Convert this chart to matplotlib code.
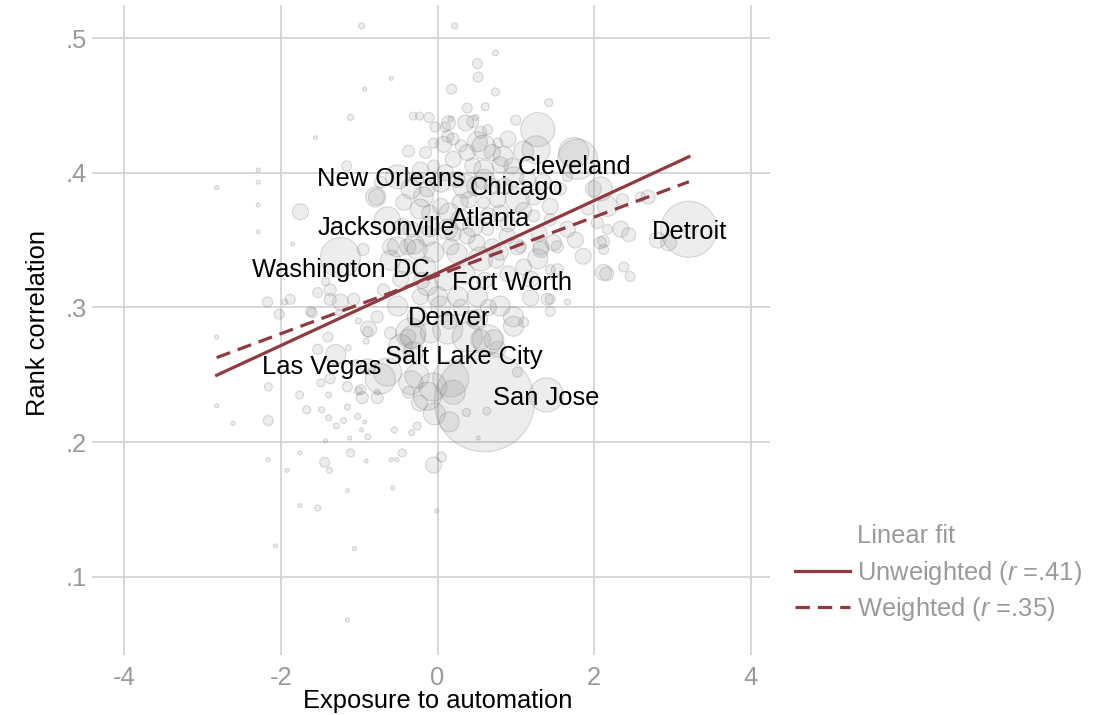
import numpy as np
import matplotlib
matplotlib.use("Agg")
import matplotlib.pyplot as plt
from matplotlib.lines import Line2D

# -----------------------------
# Data
# -----------------------------

# exposure to automation (x), rank correlation (y), population weight (bubble size)
exposure = [
    # outer / sparse areas
    -2.82, -2.82, -2.82, -2.61, -2.29, -2.29, -2.29, -2.29, -2.16, -2.16,
    -2.16, -1.92, -1.76, -1.67, -1.48, -1.39, -1.39, -1.29, -1.20, -1.15,
    -1.02, -0.96, -1.01, -0.93, -0.97, -0.89, -1.12, -0.77, -0.55, -0.33,
    -0.26, -0.37, -0.23, -0.06, 0.20, -0.04, 0.15, 0.37, 0.63, 0.52,
    -1.76, -1.43, -1.11, -0.91, -1.44, -1.38, -1.15, -1.76, -1.53, -2.07,
    -1.06, -1.15, -0.57, -0.59, -0.52, -0.45, -0.05, 0.05, -0.01, -0.97,
    0.22, 0.74, 0.51, 0.52, -0.59, -0.93, 0.18, 0.74, 1.42, 0.38,
    0.61, -1.11, -1.56, 1.00, 1.28, 1.26, -0.37, -0.23, -0.11, 0.17,
    0.36, 0.49, -1.16, -1.75, -0.78, 1.79, -1.85, -1.24, -2.17, -2.02,
    -1.95, -1.60, -1.53, -1.37, -1.43, -1.26, -1.01, -0.89, -0.91, -1.40,
    -1.53, -1.30, -1.14, -1.05, -0.89, -1.49, -1.37, -1.15, -0.98, -0.77,
    -0.64, -0.47, -0.34, -0.26, 0.17, 0.13, 0.51, 0.64, 0.97, 1.10,
    0.77, 1.02, 1.19, 1.44, 1.44, 1.66, 1.44, 1.86, 2.12, 2.12,
    1.32, 1.39, 0.60, -0.13, 3.21, 1.99, 2.17, 2.36, 2.59, 2.69,
    2.34, 2.44, 2.12, 1.76, 2.16, 2.38, 2.46, 2.81, 2.95, 1.74,
    # dense core
    -0.31, 0.14, 0.45, -0.03, 0.10, 0.64, 0.77, 0.08, 0.20, 0.51,
    0.38, 0.59, 0.84, 1.10, 2.08, 1.92, 2.17, 2.04, 1.44, 1.57,
    1.66, -0.22, -0.05, -0.34, -0.13, 0.04, 0.59, 0.80, 0.97, 1.35,
    1.23, 1.02, 0.77, -0.22, 0.04, 0.29, 0.59, 0.80, 1.23, 1.44,
    1.66, 2.08, 1.53, 1.32, -0.13, 0.13, 0.38, 0.64, 0.89, 1.06,
    -0.38, -0.34, -0.64, -0.79, -0.51, -0.18, -0.43, -0.73, 0.13, -0.05,
    -0.51, -0.95, -0.60, -0.30, -0.47, -0.69, -0.51, -0.26, -0.77, -0.60,
    -0.38, -0.31, -0.13, 0.04, -1.37, -1.07, -0.88, -1.24, -1.88, -1.62,
    -0.73, -0.26, -0.05, 0.17, 0.55, 0.80, 1.02, 1.48, 1.28, 1.53,
    1.40, 1.19, 0.97, 0.80, 0.51, 0.26, 0.00, -0.22, -0.31, -0.09,
    0.38, 0.72, 0.55, -0.34, 0.35, 0.60, 0.15, 0.45, 0.25, 0.70,
    0.10, 0.35, -0.15, 0.60, 0.90, 0.20, 0.50, -0.10, 0.30, 0.70,
    0.25, 0.45, 0.70, 0.95, 1.15, 0.30, 0.55, 0.90, 0.10, -0.15,
    0.40, 0.65, 0.90, 1.10, 0.20, 0.50, 0.75, 1.10, 0.30, 0.65,
    -0.40, -0.20, 0.15, 0.45, -0.10, -0.45, -0.60, -0.25, 0.85, 1.30,
]

rank_corr = [
    # outer / sparse areas
    0.389, 0.278, 0.227, 0.214, 0.402, 0.393, 0.376, 0.356, 0.241, 0.216,
    0.187, 0.179, 0.235, 0.224, 0.224, 0.235, 0.218, 0.212, 0.216, 0.226,
    0.219, 0.233, 0.238, 0.215, 0.209, 0.204, 0.203, 0.237, 0.209, 0.207,
    0.212, 0.237, 0.229, 0.241, 0.237, 0.221, 0.215, 0.222, 0.223, 0.203,
    0.192, 0.201, 0.192, 0.186, 0.185, 0.179, 0.164, 0.153, 0.151, 0.123,
    0.121, 0.068, 0.166, 0.187, 0.187, 0.192, 0.183, 0.189, 0.149, 0.509,
    0.509, 0.489, 0.481, 0.471, 0.470, 0.462, 0.462, 0.460, 0.452, 0.448,
    0.449, 0.441, 0.426, 0.439, 0.432, 0.417, 0.416, 0.442, 0.441, 0.440,
    0.437, 0.441, 0.405, 0.371, 0.382, 0.410, 0.347, 0.337, 0.304, 0.295,
    0.304, 0.296, 0.311, 0.313, 0.319, 0.296, 0.290, 0.282, 0.275, 0.278,
    0.269, 0.265, 0.270, 0.259, 0.256, 0.244, 0.247, 0.241, 0.239, 0.233,
    0.252, 0.271, 0.281, 0.249, 0.247, 0.284, 0.291, 0.276, 0.286, 0.289,
    0.269, 0.252, 0.321, 0.306, 0.297, 0.304, 0.328, 0.338, 0.326, 0.343,
    0.345, 0.235, 0.230, 0.234, 0.358, 0.388, 0.375, 0.380, 0.382, 0.382,
    0.358, 0.354, 0.349, 0.350, 0.325, 0.330, 0.323, 0.350, 0.348, 0.415,
    # dense core
    0.442, 0.437, 0.438, 0.434, 0.434, 0.432, 0.422, 0.421, 0.425, 0.423,
    0.415, 0.419, 0.412, 0.416, 0.388, 0.373, 0.358, 0.363, 0.375, 0.388,
    0.397, 0.402, 0.405, 0.388, 0.388, 0.393, 0.402, 0.406, 0.397, 0.393,
    0.382, 0.380, 0.380, 0.373, 0.375, 0.378, 0.378, 0.370, 0.368, 0.365,
    0.358, 0.348, 0.345, 0.343, 0.353, 0.358, 0.353, 0.358, 0.353, 0.345,
    0.345, 0.358, 0.365, 0.382, 0.397, 0.382, 0.378, 0.393, 0.427, 0.422,
    0.345, 0.343, 0.335, 0.347, 0.321, 0.313, 0.301, 0.293, 0.293, 0.281,
    0.278, 0.267, 0.316, 0.301, 0.306, 0.306, 0.284, 0.304, 0.306, 0.297,
    0.247, 0.343, 0.341, 0.345, 0.336, 0.341, 0.345, 0.348, 0.336, 0.328,
    0.306, 0.307, 0.293, 0.301, 0.308, 0.308, 0.308, 0.308, 0.278, 0.281,
    0.278, 0.276, 0.276, 0.244, 0.390, 0.395, 0.370, 0.360, 0.340, 0.345,
    0.320, 0.325, 0.330, 0.320, 0.325, 0.410, 0.390, 0.360, 0.365, 0.390,
    0.395, 0.405, 0.415, 0.405, 0.395, 0.420, 0.430, 0.425, 0.400, 0.415,
    0.380, 0.368, 0.362, 0.372, 0.355, 0.348, 0.335, 0.330, 0.300, 0.300,
    0.330, 0.320, 0.290, 0.292, 0.370, 0.360, 0.345, 0.395, 0.390, 0.355,
]

pop = [
    # outer / sparse areas
    16, 16, 16, 16, 16, 16, 16, 16, 64, 100,
    16, 16, 64, 64, 36, 36, 36, 36, 36, 36,
    36, 144, 64, 16, 16, 36, 16, 36, 36, 36,
    64, 144, 256, 784, 576, 484, 400, 64, 64, 16,
    16, 16, 64, 16, 100, 36, 16, 16, 36, 16,
    16, 16, 16, 16, 16, 64, 256, 100, 16, 36,
    36, 36, 100, 100, 16, 16, 100, 64, 64, 100,
    64, 36, 16, 100, 1156, 784, 144, 64, 100, 36,
    256, 36, 100, 256, 256, 1600, 16, 1600, 100, 100,
    36, 100, 100, 144, 64, 36, 36, 100, 36, 100,
    100, 400, 36, 36, 256, 64, 100, 100, 100, 144,
    784, 576, 900, 576, 1296, 900, 400, 900, 400, 100,
    256, 100, 256, 100, 100, 36, 100, 256, 256, 100,
    256, 1156, 10000, 784, 3136, 256, 400, 144, 100, 196,
    256, 196, 144, 256, 196, 100, 100, 256, 256, 900,
    # dense core
    64, 196, 144, 100, 100, 100, 100, 256, 144, 400,
    256, 576, 400, 400, 576, 144, 100, 144, 256, 144,
    100, 256, 144, 400, 256, 400, 400, 256, 400, 256,
    256, 576, 256, 400, 256, 256, 144, 256, 144, 144,
    256, 144, 144, 256, 400, 400, 256, 144, 256, 144,
    256, 256, 676, 400, 576, 400, 256, 144, 144, 100,
    400, 144, 400, 400, 256, 144, 400, 400, 144, 144,
    256, 400, 400, 400, 144, 144, 256, 256, 100, 100,
    900, 400, 400, 256, 576, 256, 256, 256, 400, 144,
    144, 256, 400, 400, 400, 400, 400, 256, 576, 400,
    900, 400, 400, 576, 576, 400, 400, 400, 400, 256,
    400, 400, 400, 256, 256, 256, 400, 400, 400, 256,
    256, 256, 256, 256, 256, 144, 144, 256, 256, 144,
    256, 256, 256, 256, 256, 256, 256, 256, 256, 256,
    256, 256, 256, 256, 256, 256, 256, 144, 256, 256,
]

# labelled cities
city_names = ["New Orleans", "Chicago", "Cleveland", "Atlanta", "Jacksonville", "Detroit",
              "Washington DC", "Fort Worth", "Denver", "Salt Lake City", "Las Vegas", "San Jose"]
city_x = [-0.59, 1.01, 1.75, 0.68, -0.65, 3.22, -1.24, 0.95, 0.15, 0.33, -1.48, 1.39]
city_y = [0.395, 0.389, 0.404, 0.366, 0.359, 0.356, 0.328, 0.318, 0.292, 0.263, 0.256, 0.233]

# linear fits: slope, intercept
fit_unweighted = [0.0269, 0.3255]
fit_weighted = [0.02165, 0.3238]

x_ticks = [-4, -2, 0, 2, 4]
y_ticks = [0.1, 0.2, 0.3, 0.4, 0.5]
y_tick_labels = [".1", ".2", ".3", ".4", ".5"]

# -----------------------------
# Plot
# -----------------------------

plt.rcParams["font.family"] = ["Liberation Sans", "DejaVu Sans"]
plt.rcParams["mathtext.fontset"] = "custom"
plt.rcParams["mathtext.rm"] = "Liberation Sans"
plt.rcParams["mathtext.it"] = "Liberation Sans:italic"
plt.rcParams["axes.unicode_minus"] = False

red = "#903a40"
grey_txt = "#9a9a9a"
fs = 18.4

fig = plt.figure(figsize=(11.1, 7.15), dpi=100)
ax = fig.add_axes([0.083, 0.084, 0.611, 0.909])

ax.scatter(exposure, rank_corr, s=np.array(pop) * 0.52,
           facecolor=(0.5, 0.5, 0.5, 0.14), edgecolor=(0.42, 0.42, 0.42, 0.24),
           linewidth=0.8, zorder=2)

xs = np.array([min(exposure), max(exposure)])
ax.plot(xs, np.polyval(fit_unweighted, xs), color=red, lw=2.3, zorder=3)
ax.plot(xs, np.polyval(fit_weighted, xs), color=red, lw=2.3,
        ls=(0, (4.5, 2.5)), zorder=3)

for name, cx, cy in zip(city_names, city_x, city_y):
    ax.text(cx, cy, name, ha="center", va="center", fontsize=fs, color="black", zorder=4)

ax.set_xlim(-4.41, 4.25)
ax.set_ylim(0.042, 0.5245)
ax.set_xticks(x_ticks)
ax.set_yticks(y_ticks)
ax.set_yticklabels(y_tick_labels)
ax.grid(True, color="#d4d4d4", lw=1.3)
ax.set_axisbelow(True)
for sp in ax.spines.values():
    sp.set_visible(False)
ax.tick_params(length=0, labelcolor=grey_txt, labelsize=fs)
ax.tick_params(axis="x", pad=8)
ax.tick_params(axis="y", pad=4)

ax.set_xlabel("Exposure to automation", fontsize=fs)
ax.set_ylabel("Rank correlation", fontsize=fs)
ax.xaxis.set_label_coords(0.509, -0.071)
ax.xaxis.label.set_va("center")
ax.yaxis.set_label_coords(-0.08, 0.511)
ax.yaxis.label.set_va("center")

# legend
fig.text(857 / 1110, 1 - 536 / 715, "Linear fit", fontsize=fs, color=grey_txt,
         ha="left", va="center")
handles = [Line2D([], [], color=red, lw=2.3),
           Line2D([], [], color=red, lw=2.3, ls=(0, (4.5, 2.5)))]
labels = ["Unweighted ($\\it{r}$ =.41)", "Weighted ($\\it{r}$ =.35)"]
ax.legend(handles, labels, loc="upper left", bbox_to_anchor=(795 / 1110, 1 - 559 / 715),
          bbox_transform=fig.transFigure, frameon=False, fontsize=fs,
          labelcolor=grey_txt, handlelength=2.15, handletextpad=0.28,
          borderpad=0, borderaxespad=0, labelspacing=0.3)

fig.savefig("out.png", dpi=100)
